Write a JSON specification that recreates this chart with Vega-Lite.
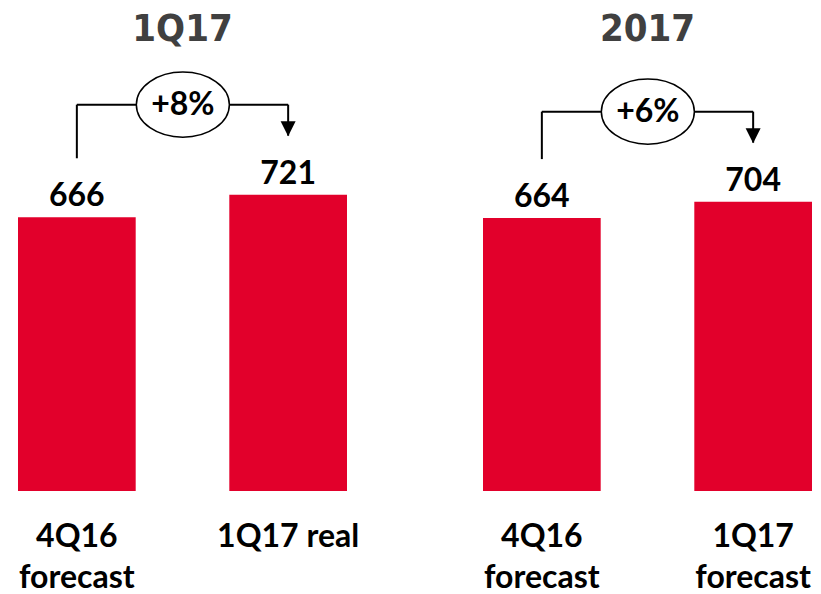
{
  "$schema": "https://vega.github.io/schema/vega-lite/v6.json",
  "background": "white",
  "padding": {"left": 18, "top": 11, "right": 5, "bottom": 0},
  "bounds": "flush",
  "data": {"values": [
    {"panel": "1Q17", "category": "4Q16 forecast", "value": 666, "growth": "+8%"},
    {"panel": "1Q17", "category": "1Q17 real", "value": 721, "growth": "+8%"},
    {"panel": "2017", "category": "4Q16 forecast", "value": 664, "growth": "+6%"},
    {"panel": "2017", "category": "1Q17 forecast", "value": 704, "growth": "+6%"}
  ]},
  "transform": [{"joinaggregate": [{"op": "max", "field": "value", "as": "peak"}], "groupby": ["panel"]}],
  "facet": {"column": {"field": "panel", "type": "nominal", "header": {"title": null, "labelFont": "DejaVu Sans Condensed", "labelFontSize": 38, "labelFontWeight": "bold", "labelColor": "#404040", "labelBaseline": "alphabetic", "labelPadding": 1}}},
  "spacing": 136,
  "resolve": {"scale": {"x": "independent"}},
  "spec": {
    "width": 329,
    "height": 411,
    "encoding": {
      "x": {"field": "category", "type": "nominal", "sort": ["4Q16 forecast", "1Q17 real", "1Q17 forecast"],
        "scale": {"paddingInner": 0.443, "paddingOuter": 0},
        "axis": {"title": null, "ticks": false, "domain": false, "labelAngle": 0, "labelFont": "Lato", "labelFontSize": 32, "labelFontWeight": "bold", "labelColor": "black", "labelBaseline": "alphabetic", "labelPadding": 55, "labelLineHeight": 41, "labelLimit": 0,
          "labelExpr": "indexof(datum.label, 'forecast') >= 0 ? split(datum.label, ' ') : datum.label"}},
      "y": {"field": "value", "type": "quantitative", "scale": {"domain": [0, 1000]}, "axis": null}
    },
    "layer": [
      {"mark": {"type": "bar", "color": "#E2002B"}},
      {"mark": {"type": "text", "font": "Lato", "fontSize": 32, "fontWeight": "bold", "baseline": "alphabetic", "dy": -11, "color": "black"},
        "encoding": {"text": {"field": "value", "type": "quantitative"}}},
      {"mark": {"type": "line", "color": "black", "strokeWidth": 2, "yOffset": -90},
        "encoding": {"y": {"field": "peak", "type": "quantitative"}}},
      {"mark": {"type": "rule", "color": "black", "strokeWidth": 2, "yOffset": -59, "y2Offset": -90},
        "encoding": {"y2": {"field": "peak"}}},
      {"transform": [{"filter": "datum.category != '4Q16 forecast'"}],
        "mark": {"type": "point", "shape": "M -1 -1 L 1 -1 L 0 1 Z", "size": 225, "filled": true, "color": "black", "opacity": 1, "yOffset": -66}},
      {"transform": [{"filter": "datum.category == '4Q16 forecast'"}],
        "mark": {"type": "point", "shape": "M -1 0 C -1 -0.387 -0.552 -0.7 0 -0.7 C 0.552 -0.7 1 -0.387 1 0 C 1 0.387 0.552 0.7 0 0.7 C -0.552 0.7 -1 0.387 -1 0 Z", "size": 8649, "filled": true, "fill": "white", "stroke": "black", "strokeWidth": 1.5, "opacity": 1, "xOffset": 106, "yOffset": -90},
        "encoding": {"y": {"field": "peak", "type": "quantitative"}}},
      {"transform": [{"filter": "datum.category == '4Q16 forecast'"}],
        "mark": {"type": "text", "font": "Lato", "fontSize": 32, "fontWeight": "bold", "baseline": "middle", "color": "black", "xOffset": 106, "yOffset": -90},
        "encoding": {"y": {"field": "peak", "type": "quantitative"}, "text": {"field": "growth"}}}
    ]
  },
  "config": {"view": {"stroke": null}}
}
